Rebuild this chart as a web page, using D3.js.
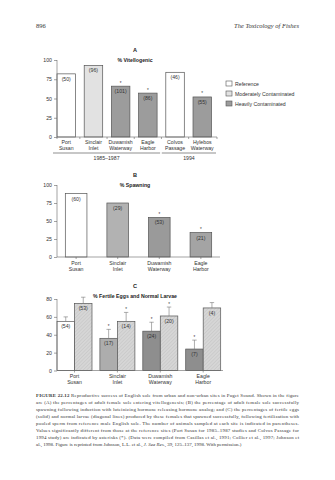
<!DOCTYPE html>
<html><head><meta charset="utf-8">
<script src="https://cdn.jsdelivr.net/npm/d3@7"></script>
<style>
html,body{margin:0;padding:0;background:#fff;}
svg{display:block;}
.sans{font-family:"Liberation Sans",Arial,sans-serif;}
.serif{font-family:"Liberation Serif","Times New Roman",serif;}
</style></head>
<body>
<svg id="page" width="335" height="480"></svg>
<script>
// ---------- DATA ----------
const sitesA = ["Port Susan","Sinclair Inlet","Duwamish Waterway","Eagle Harbor","Colvos Passage","Hylebos Waterway"];
const vitellogenic = [82, 93, 66, 57, 84, 52];
const nA = ["(50)","(96)","(101)","(86)","(46)","(55)"];
const sigA = [false, false, true, true, false, true];
const typeA = ["ref","mod","heavy","heavy","ref","heavy"];
const periodsA = ["1985\u20131987","1994"];
const periodSpan = [[0,3],[4,5]];
const legendLabels = ["Reference","Moderately Contaminated","Heavily Contaminated"];
const ticksA = [0,25,50,75,100];

const sitesB = ["Port Susan","Sinclair Inlet","Duwamish Waterway","Eagle Harbor"];
const spawning = [88, 75, 55, 34];
const nB = ["(60)","(29)","(53)","(21)"];
const sigB = [false, false, true, true];
const ticksB = [0,25,50,75,100];

const sitesC = ["Port Susan","Sinclair Inlet","Duwamish Waterway","Eagle Harbor"];
const fertileEggs = [55, 36, 44, 24];
const fertileErr = [5, 10, 10, 10];
const normalLarvae = [75, 55, 61, 70];
const larvaeErr = [7, 10, 10, 6];
const nEggs = ["(54)","(17)","(24)","(7)"];
const nLarvae = ["(53)","(14)","(20)","(4)"];
const sigEggs = [false, true, true, true];
const sigLarvae = [false, true, true, false];
const ticksC = [0,20,40,60,80];

const captionLines = [
 ["FIGURE 22.12"," Reproductive success of English sole from urban and non-urban sites in Puget Sound. Shown in the figure"],
 ["","are (A) the percentages of adult female sole entering vitellogenesis; (B) the percentage of adult female sole successfully"],
 ["","spawning following induction with luteinizing hormone releasing hormone analog; and (C) the percentages of fertile eggs"],
 ["","(solid) and normal larvae (diagonal lines) produced by these females that spawned successfully, following fertilization with"],
 ["","pooled sperm from reference male English sole. The number of animals sampled at each site is indicated in parentheses."],
 ["","Values significantly different from those at the reference sites (Port Susan for 1985\u20131987 studies and Colvos Passage for"],
 ["","1994 study) are indicated by asterisks (*). (Data were compiled from Casillas et al., 1991; Collier et al., 1997; Johnson et"],
 ["","al., 1998. Figure is reprinted from Johnson, L.L. et al., J. Sea Res., 39, 125\u2013137, 1998. With permission.)"]
];

// ---------- STYLE ----------
const FS = 5.2;
const axisColor = "#666";
const barStroke = "#555";
const fillA = {ref:"#ffffff", mod:"#e2e2e2", heavy:"#9c9c9c"};
const fillB = ["#ffffff","#b2b2b2","#9a9a9a","#a4a4a4"];
const fillC = ["#ffffff","#adadad","#8e8e8e","#8e8e8e"];

const svg = d3.select("#page");
const defs = svg.append("defs");
const pat = defs.append("pattern").attr("id","hatch").attr("patternUnits","userSpaceOnUse")
  .attr("width",2.5).attr("height",2.5).attr("patternTransform","rotate(45)");
pat.append("rect").attr("width",2.5).attr("height",2.5).attr("fill","#d6d6d6");
pat.append("line").attr("x1",0).attr("y1",0).attr("x2",0).attr("y2",2.5).attr("stroke","#c2c2c2").attr("stroke-width",1);

// header
svg.append("text").attr("class","serif").attr("x",36).attr("y",28).attr("font-size",6.5).attr("fill","#333").text("896");
svg.append("text").attr("class","serif").attr("x",299).attr("y",28).attr("font-size",6.5).attr("font-style","italic")
  .attr("text-anchor","end").attr("fill","#333").text("The Toxicology of Fishes");

function yAxis(g, y, ticks, x0){
  const ax = g.append("g").attr("transform",`translate(${x0},0)`).attr("class","sans")
    .call(d3.axisLeft(y).tickValues(ticks).tickSize(3).tickPadding(2).tickFormat(d3.format("d")));
  ax.selectAll("path,line").attr("stroke",axisColor).attr("stroke-width",0.6);
  ax.select(".domain").attr("d",`M0,${y(ticks[ticks.length-1])}V${y(0)}`);
  ax.selectAll("text").attr("font-size",FS).attr("fill","#333").attr("font-family",null);
}
function twoLine(g, x, y, label){
  const parts = label.split(" ");
  const t = g.append("text").attr("class","sans").attr("x",x).attr("y",y).attr("text-anchor","middle")
    .attr("font-size",FS).attr("fill","#333");
  t.append("tspan").attr("x",x).text(parts[0]);
  t.append("tspan").attr("x",x).attr("dy",6.2).text(parts.slice(1).join(" "));
}
function titles(letter, title, y){
  svg.append("text").attr("class","sans").attr("x",135).attr("y",y).attr("text-anchor","middle")
    .attr("font-size",5.6).attr("font-weight","bold").attr("fill","#222").text(letter);
  svg.append("text").attr("class","sans").attr("x",135).attr("y",y+10).attr("text-anchor","middle")
    .attr("font-size",5.2).attr("font-weight","bold").attr("fill","#222").text(title);
}
function star(g, x, y){
  g.append("text").attr("class","sans").attr("x",x).attr("y",y).attr("text-anchor","middle")
   .attr("font-size",4.5).attr("fill","#333").text("*");
}
function nlabel(g, x, y, t){
  g.append("text").attr("class","sans").attr("x",x).attr("y",y).attr("text-anchor","middle")
   .attr("font-size",FS).attr("fill","#333").text(t);
}

// ---------- CHART A ----------
{
  titles("A","% Vitellogenic",52);
  const g = svg.append("g");
  const y = d3.scaleLinear().domain([0,100]).range([137,60]);
  const x = d3.scaleBand().domain(sitesA).range([57,211.5]).paddingInner(0.32).paddingOuter(0);
  g.selectAll("rect.bar").data(sitesA).join("rect").attr("class","bar")
    .attr("x",d=>x(d)).attr("width",x.bandwidth())
    .attr("y",(d,i)=>y(vitellogenic[i])).attr("height",(d,i)=>y(0)-y(vitellogenic[i]))
    .attr("fill",(d,i)=>fillA[typeA[i]]).attr("stroke",barStroke).attr("stroke-width",0.7);
  sitesA.forEach((s,i)=>{
    const cx = x(s)+x.bandwidth()/2;
    nlabel(g,cx,y(vitellogenic[i])+7,nA[i]);
    if(sigA[i]) star(g,cx,y(vitellogenic[i])-1.5);
    twoLine(g,cx,144,s);
  });
  yAxis(g,y,ticksA,57);
  g.append("line").attr("x1",57).attr("x2",217).attr("y1",y(0)).attr("y2",y(0)).attr("stroke",axisColor).attr("stroke-width",0.6);
  const step = x.step();
  const bounds = [57].concat(sitesA.map(s=>x(s)+x.bandwidth()+(step-x.bandwidth())/2));
  bounds[bounds.length-1]=217;
  bounds.forEach(b=>g.append("line").attr("x1",b).attr("x2",b).attr("y1",y(0)).attr("y2",y(0)+2).attr("stroke",axisColor).attr("stroke-width",0.6));
  periodSpan.forEach((sp,k)=>{
    const x1 = k===0 ? 53 : x(sitesA[sp[0]])-4;
    const x2 = k===0 ? x(sitesA[sp[1]])+x.bandwidth()+3 : 216;
    g.append("line").attr("x1",x1).attr("x2",x2).attr("y1",153).attr("y2",153).attr("stroke","#444").attr("stroke-width",0.6);
    nlabel(g,(x1+x2)/2,159.5,periodsA[k]);
  });
  // legend
  const lg = svg.append("g").attr("transform","translate(226,81)");
  legendLabels.forEach((l,i)=>{
    lg.append("rect").attr("x",0).attr("y",i*10).attr("width",6).attr("height",5)
      .attr("fill",[fillA.ref,fillA.mod,fillA.heavy][i]).attr("stroke",barStroke).attr("stroke-width",0.6);
    lg.append("text").attr("class","sans").attr("x",9).attr("y",i*10+4.6).attr("font-size",FS).attr("fill","#333").text(l);
  });
}

// ---------- CHART B ----------
{
  titles("B","% Spawning",177);
  const g = svg.append("g");
  const y = d3.scaleLinear().domain([0,100]).range([257,185]);
  const x = d3.scaleBand().domain(sitesB).range([57,220]).paddingInner(0.48).paddingOuter(0.2);
  g.selectAll("rect.bar").data(sitesB).join("rect").attr("class","bar")
    .attr("x",d=>x(d)).attr("width",x.bandwidth())
    .attr("y",(d,i)=>y(spawning[i])).attr("height",(d,i)=>y(0)-y(spawning[i]))
    .attr("fill",(d,i)=>fillB[i]).attr("stroke",barStroke).attr("stroke-width",0.7);
  sitesB.forEach((s,i)=>{
    const cx = x(s)+x.bandwidth()/2;
    nlabel(g,cx,y(spawning[i])+7,nB[i]);
    if(sigB[i]) star(g,cx,y(spawning[i])-1.5);
    twoLine(g,cx,265,s);
    g.append("line").attr("x1",cx).attr("x2",cx).attr("y1",y(0)).attr("y2",y(0)+2).attr("stroke",axisColor).attr("stroke-width",0.6);
  });
  yAxis(g,y,ticksB,57);
  g.append("line").attr("x1",57).attr("x2",220).attr("y1",y(0)).attr("y2",y(0)).attr("stroke",axisColor).attr("stroke-width",0.6);
}

// ---------- CHART C ----------
{
  titles("C","% Fertile Eggs and Normal Larvae",288);
  const g = svg.append("g");
  const y = d3.scaleLinear().domain([0,80]).range([370.5,299]);
  const x = d3.scaleBand().domain(sitesC).range([57,220.7]).paddingInner(0.184).paddingOuter(0);
  const xs = d3.scaleBand().domain(["eggs","larvae"]).range([0,x.bandwidth()]);
  const series = [
    {key:"eggs", v:fertileEggs, e:fertileErr, n:nEggs, s:sigEggs},
    {key:"larvae", v:normalLarvae, e:larvaeErr, n:nLarvae, s:sigLarvae}
  ];
  series.forEach(se=>{
    g.selectAll(`rect.${se.key}`).data(sitesC).join("rect").attr("class",se.key)
      .attr("x",d=>x(d)+xs(se.key)).attr("width",xs.bandwidth())
      .attr("y",(d,i)=>y(se.v[i])).attr("height",(d,i)=>y(0)-y(se.v[i]))
      .attr("fill",(d,i)=>se.key==="eggs"?fillC[i]:"url(#hatch)")
      .attr("stroke",barStroke).attr("stroke-width",0.7);
    sitesC.forEach((s,i)=>{
      const cx = x(s)+xs(se.key)+xs.bandwidth()/2;
      const top = y(se.v[i]+se.e[i]);
      g.append("line").attr("x1",cx).attr("x2",cx).attr("y1",y(se.v[i])).attr("y2",top).attr("stroke","#777").attr("stroke-width",0.6);
      g.append("line").attr("x1",cx-2.2).attr("x2",cx+2.2).attr("y1",top).attr("y2",top).attr("stroke","#777").attr("stroke-width",0.6);
      nlabel(g,cx,y(se.v[i])+7,se.n[i]);
      if(se.s[i]) star(g,cx,top-1.2);
    });
  });
  sitesC.forEach(s=>{
    const cx = x(s)+x.bandwidth()/2;
    twoLine(g,cx,378,s);
    g.append("line").attr("x1",cx).attr("x2",cx).attr("y1",y(0)).attr("y2",y(0)+2).attr("stroke",axisColor).attr("stroke-width",0.6);
  });
  yAxis(g,y,ticksC,57);
  g.append("line").attr("x1",57).attr("x2",223).attr("y1",y(0)).attr("y2",y(0)).attr("stroke",axisColor).attr("stroke-width",0.6);
}

// ---------- CAPTION ----------
{
  const lh = 7.0, y0 = 396.5;
  captionLines.forEach((ln,i)=>{
    const t = svg.append("text").attr("class","serif").attr("x",36).attr("y",y0+i*lh)
      .attr("font-size",4.9).attr("fill","#333");
    if(i<captionLines.length-1) t.attr("textLength",263).attr("lengthAdjust","spacing");
    if(ln[0]) t.append("tspan").attr("font-weight","bold").text(ln[0]);
    const txt = ln[1];
    const jIdx = txt.indexOf("J. Sea Res.");
    if(jIdx>=0){
      t.append("tspan").text(txt.slice(0,jIdx));
      t.append("tspan").attr("font-style","italic").text("J. Sea Res.");
      t.append("tspan").text(txt.slice(jIdx+11));
    } else t.append("tspan").text(txt);
  });
}
</script>
</body></html>
